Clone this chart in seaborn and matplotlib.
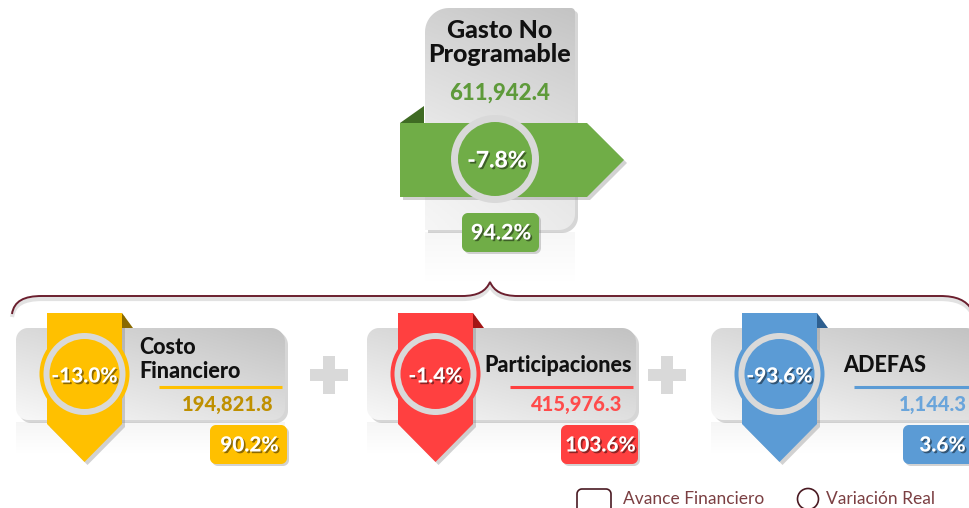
import matplotlib
matplotlib.use("Agg")
import matplotlib.pyplot as plt
import seaborn as sns
import numpy as np
from matplotlib.patches import Polygon, Circle, PathPatch
from matplotlib.path import Path
import matplotlib.patheffects as pe
from matplotlib.colors import LinearSegmentedColormap

# ---------------- data ----------------
total_label = "Gasto No\nProgramable"
total_amount = 611942.4
total_real_var = -7.8
total_avance = 94.2

categories = ["Costo\nFinanciero", "Participaciones", "ADEFAS"]
amounts = [194821.8, 415976.3, 1144.3]
real_var = [-13.0, -1.4, -93.6]
avance = [90.2, 103.6, 3.6]
legend_labels = ["Avance Financiero", "Variación Real"]

# ---------------- style ----------------
sns.set_theme(style="white")
plt.rcParams["font.family"] = ["Lato", "DejaVu Sans"]

main_colors = sns.color_palette(["#FFC000", "#FF4040", "#5B9BD5"])
fold_colors = ["#8A6A00", "#A31515", "#2E5F8F"]
value_colors = ["#BF9000", "#FF4B4B", "#6AA5DB"]
green = "#70AD47"
green_dark = "#3F6B23"
green_text = "#5E9A3A"
ring_gray = "#D9D9D9"
maroon = "#6B1F2E"
legend_color = "#7B3F42"
HEAVY = 900

fig = plt.figure(figsize=(9.7, 5.08), dpi=100)
ax = fig.add_axes([0, 0, 1, 1])
ax.set_axis_off()
W, H = 970, 508

shadow_fx = [pe.withSimplePatchShadow(offset=(1.2, -1.2), shadow_rgbFace=(0, 0, 0), alpha=0.45)]


def rounded_pts(x0, y0, x1, y1, radii, n=14):
    r_tl, r_tr, r_br, r_bl = radii
    pts = []
    corners = [((x0 + r_tl, y0 + r_tl), r_tl, np.pi, 1.5 * np.pi),
               ((x1 - r_tr, y0 + r_tr), r_tr, 1.5 * np.pi, 2 * np.pi),
               ((x1 - r_br, y1 - r_br), r_br, 0, 0.5 * np.pi),
               ((x0 + r_bl, y1 - r_bl), r_bl, 0.5 * np.pi, np.pi)]
    for (cx, cy), r, a0, a1 in corners:
        if r <= 0:
            pts.append((cx, cy))
            continue
        for t in np.linspace(a0, a1, n):
            pts.append((cx + r * np.cos(t), cy + r * np.sin(t)))
    return np.array(pts)


def gradient_poly(pts, func, c0, c1, z, shadow=True, off=(3, 3)):
    if shadow:
        ax.add_patch(Polygon(pts + np.array(off), closed=True, fc="#8c8c8c",
                             ec="none", alpha=0.35, zorder=z - 0.2))
    patch = Polygon(pts, closed=True, fc="none", ec="none", zorder=z)
    ax.add_patch(patch)
    x0, y0 = pts.min(axis=0)
    x1, y1 = pts.max(axis=0)
    u = np.linspace(0, 1, 200)[None, :]
    v = np.linspace(0, 1, 120)[:, None]
    t = func(u, v)
    cmap = LinearSegmentedColormap.from_list("g", [c0, c1])
    im = ax.imshow(t, extent=(x0, x1, y1, y0), origin="upper", cmap=cmap,
                   vmin=0, vmax=1, zorder=z, interpolation="bilinear", aspect="auto")
    im.set_clip_path(patch)


def reflection(x0, x1, y0, y1, z=0.5, a=0.45):
    rgba = np.zeros((60, 2, 4))
    rgba[..., :3] = 0.91
    rgba[..., 3] = np.linspace(a, 0.0, 60)[:, None]
    ax.imshow(rgba, extent=(x0, x1, y1, y0), origin="upper", zorder=z,
              interpolation="bilinear", aspect="auto")


def round_box(x0, y0, x1, y1, color, r, z, shadow=True):
    pts = rounded_pts(x0, y0, x1, y1, (r, r, r, r))
    if shadow:
        ax.add_patch(Polygon(pts + np.array([2, 2]), closed=True, fc="#7f7f7f",
                             ec="none", alpha=0.35, zorder=z - 0.1))
    ax.add_patch(Polygon(pts, closed=True, fc=color, ec="none", zorder=z))


# ---------------- top card ----------------
reflection(425, 575, 232, 282, a=0.35)
top_pts = rounded_pts(425, 8, 575, 230, (24, 4, 16, 0))
gradient_poly(top_pts, lambda u, v: 0.75 * (1 - v) ** 1.3 + 0.25 * u,
              "#F6F6F6", "#C4C4C4", 2)

for i, line in enumerate(total_label.split("\n")):
    ax.text(500, 30 + 25 * i, line, ha="center", va="center", fontsize=18,
            fontweight=HEAVY, color="#111111", zorder=5)
ax.text(500, 93, f"{total_amount:,.1f}", ha="center", va="center", fontsize=16,
        fontweight=HEAVY, color=green_text, zorder=5)

# green arrow band
band = [(400, 123), (587, 123), (624, 160), (587, 197), (400, 197)]
ax.add_patch(Polygon(np.array(band) + np.array([3, 3]), closed=True, fc="#808080",
                     ec="none", alpha=0.35, zorder=2.8))
ax.add_patch(Polygon(band, closed=True, fc=green, ec="none", zorder=3))
ax.add_patch(Polygon([(400, 123), (424, 106), (424, 123)], closed=True,
                     fc=green_dark, ec="none", zorder=2.9))
ax.add_patch(Circle((495, 159), 44, fc=ring_gray, ec="none", zorder=4))
ax.add_patch(Circle((495, 159), 37, fc=green, ec="none", zorder=4.1))
ax.text(497, 161, f"{total_real_var:.1f}%", ha="center", va="center", fontsize=16.5,
        fontweight=HEAVY, color="white", zorder=5, path_effects=shadow_fx)

round_box(462, 213, 539, 252, green, 6, 4)
ax.text(501, 233, f"{total_avance:.1f}%", ha="center", va="center", fontsize=15.5,
        fontweight=HEAVY, color="white", zorder=5, path_effects=shadow_fx)

# ---------------- brace ----------------
verts = [(12, 314), (14, 301), (24, 296), (42, 296),
         (462, 296),
         (478, 296), (486, 291), (490, 282),
         (494, 291), (502, 296), (518, 296),
         (940, 296),
         (956, 296), (966, 300), (972, 310)]
codes = [Path.MOVETO, Path.CURVE4, Path.CURVE4, Path.CURVE4,
         Path.LINETO,
         Path.CURVE4, Path.CURVE4, Path.CURVE4,
         Path.CURVE4, Path.CURVE4, Path.CURVE4,
         Path.LINETO,
         Path.CURVE4, Path.CURVE4, Path.CURVE4]
brace = Path(verts, codes)
shadow_brace = Path(np.array(verts) + np.array([0, 3]), codes)
ax.add_patch(PathPatch(shadow_brace, fc="none", ec="#d6d6d6", lw=3, alpha=0.7, zorder=1))
ax.add_patch(PathPatch(brace, fc="none", ec=maroon, lw=1.4, zorder=1.2))

# ---------------- bottom cards ----------------
card_x0 = [16, 367, 711]
card_w = 269
card_top, card_bot = 328, 420
title_x = [139, 484, 843]
underline_x = [(159, 282), (510, 633), (854, 975)]
value_right = [273, 622, 967]
box_x = [210, 561, 903]
box_w = 77

for i, cat in enumerate(categories):
    x0 = card_x0[i]
    x1 = x0 + card_w
    reflection(x0, x1, card_bot + 2, card_bot + 34, a=0.4)
    pts = rounded_pts(x0, card_top, x1, card_bot, (12, 14, 12, 12))
    gradient_poly(pts, lambda u, v: 0.55 * (1 - v) + 0.45 * u,
                  "#F8F8F8", "#C2C2C2", 2)

    # ribbon
    rx0 = x0 + 31
    rx1 = rx0 + 75
    rc = (rx0 + rx1) / 2
    rib = [(rx0, 313), (rx1, 313), (rx1, 424), (rc, 462), (rx0, 424)]
    ax.add_patch(Polygon(np.array(rib) + np.array([3, 3]), closed=True, fc="#7f7f7f",
                         ec="none", alpha=0.35, zorder=2.8))
    ax.add_patch(Polygon(rib, closed=True, fc=main_colors[i], ec="none", zorder=3))
    ax.add_patch(Polygon([(rx1, 313), (rx1 + 11, card_top), (rx1, card_top)],
                         closed=True, fc=fold_colors[i], ec="none", zorder=3))
    cy = 374
    ax.add_patch(Circle((rc, cy), 45, fc=main_colors[i], ec="none", zorder=4))
    ax.add_patch(Circle((rc, cy), 41, fc=ring_gray, ec="none", zorder=4.1))
    ax.add_patch(Circle((rc, cy), 35, fc=main_colors[i], ec="none", zorder=4.2))
    ax.text(rc, cy + 2, f"{real_var[i]:.1f}%", ha="center", va="center",
            fontsize=15, fontweight=HEAVY, color="white", zorder=5,
            path_effects=shadow_fx)

    # title
    lines = cat.split("\n")
    ys = [347, 371] if len(lines) == 2 else [366]
    for line, y in zip(lines, ys):
        ax.text(title_x[i], y, line, ha="left", va="center", fontsize=15.5,
                fontweight=HEAVY, color="#111111", zorder=5)
    ax.plot(underline_x[i], [387, 387], color=main_colors[i], lw=2.2,
            solid_capstyle="butt", zorder=5)
    ax.text(value_right[i], 404, f"{amounts[i]:,.1f}", ha="right", va="center",
            fontsize=14.5, fontweight=HEAVY, color=value_colors[i], zorder=5)

    bx = box_x[i]
    round_box(bx, 425, bx + box_w, 464, main_colors[i], 6, 4)
    ax.text(bx + box_w / 2 + 1, 445, f"{avance[i]:.1f}%", ha="center", va="center",
            fontsize=15, fontweight=HEAVY, color="white", zorder=5,
            path_effects=shadow_fx)

# plus signs
for px in [329, 667]:
    ax.add_patch(Polygon(rounded_pts(px - 19, 369, px + 19, 381, (0, 0, 0, 0)),
                         closed=True, fc=ring_gray, ec="none", zorder=2))
    ax.add_patch(Polygon(rounded_pts(px - 6, 356, px + 6, 394, (0, 0, 0, 0)),
                         closed=True, fc=ring_gray, ec="none", zorder=2))

# ---------------- legend ----------------
leg_sq = rounded_pts(577, 489, 611, 520, (5, 5, 5, 5))
ax.add_patch(Polygon(leg_sq, closed=True, fc="none", ec="#4A1A22", lw=1.2, zorder=5))
ax.text(623, 499, legend_labels[0], ha="left", va="center", fontsize=12.5,
        color=legend_color, zorder=5)
ax.add_patch(Circle((808, 499), 10.5, fc="none", ec="#4A1A22", lw=1.2, zorder=5))
ax.text(826, 499, legend_labels[1], ha="left", va="center", fontsize=12.5,
        color=legend_color, zorder=5)

ax.set_xlim(0, W)
ax.set_ylim(H, 0)
fig.savefig("out.png", dpi=100, facecolor="white")
